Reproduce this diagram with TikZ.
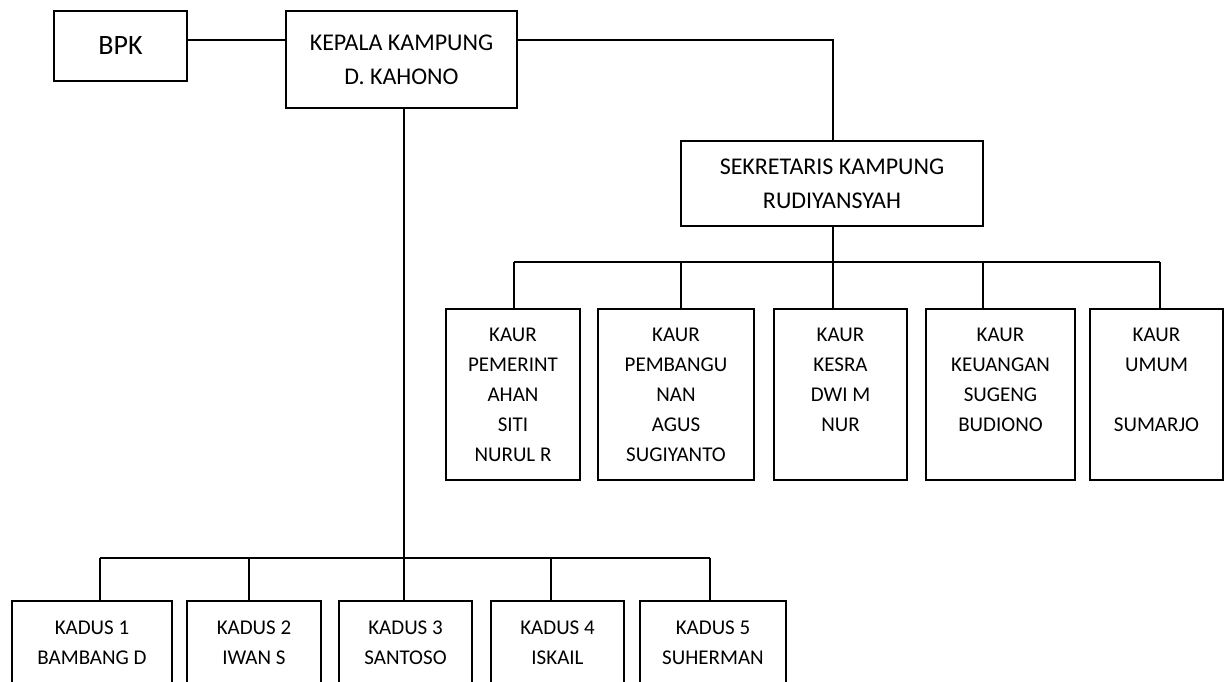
\documentclass[tikz,border=0pt]{standalone}
\usepackage{fontspec}
\setmainfont{Carlito}

\tikzset{
	kotak/.style={draw, rectangle, line width=1.6pt, align=center, inner sep=0pt},
	atas/.style={font=\fontsize{24}{34}\selectfont},
	bawah/.style={font=\fontsize{21}{30}\selectfont},
	garis/.style={line width=1.6pt}
}

\begin{document}
\begin{tikzpicture}[x=1pt, y=-1pt, anchor=center]

		\useasboundingbox (0,0) rectangle (1231,681);
		\clip (0,0) rectangle (1231,681);

		% pimpinan
		\node[kotak, minimum width=133, minimum height=70, font=\fontsize{28}{34}\selectfont] (bpk) at (120.5,46) {BPK};
		\node[kotak, atas, minimum width=231, minimum height=97] (kepala) at (401.5,59.5) {KEPALA KAMPUNG\\D. KAHONO};
		\node[kotak, atas, minimum width=302, minimum height=85] (sekdes) at (832,183.5) {SEKRETARIS KAMPUNG\\RUDIYANSYAH};

		% kaur
		\node[kotak, bawah, minimum width=134, minimum height=171] (kaur1) at (513,394.5) {KAUR\\PEMERINT\\AHAN\\SITI\\NURUL R};
		\node[kotak, bawah, minimum width=156, minimum height=171] (kaur2) at (676,394.5) {KAUR\\PEMBANGU\\NAN\\AGUS\\SUGIYANTO};
		\node[kotak, bawah, minimum width=133, minimum height=171] (kaur3) at (840.5,394.5) {KAUR\\KESRA\\DWI M\\NUR\\\mbox{}};
		\node[kotak, bawah, minimum width=149, minimum height=171] (kaur4) at (1000.5,394.5) {KAUR\\KEUANGAN\\SUGENG\\BUDIONO\\\mbox{}};
		\node[kotak, bawah, minimum width=133, minimum height=171] (kaur5) at (1156.5,394.5) {KAUR\\UMUM\\\mbox{}\\SUMARJO\\\mbox{}};

		% kadus
		\node[kotak, bawah, minimum width=160, minimum height=84] (kadus1) at (92,643) {KADUS 1\\BAMBANG D};
		\node[kotak, bawah, minimum width=134, minimum height=84] (kadus2) at (254,643) {KADUS 2\\IWAN S};
		\node[kotak, bawah, minimum width=133, minimum height=84] (kadus3) at (405.5,643) {KADUS 3\\SANTOSO};
		\node[kotak, bawah, minimum width=133, minimum height=84] (kadus4) at (557.5,643) {KADUS 4\\ISKAIL};
		\node[kotak, bawah, minimum width=146, minimum height=84] (kadus5) at (713,643) {KADUS 5\\SUHERMAN};

		% titik cabang
		\coordinate (garisatas) at (0,40);
		\coordinate (buskaur) at (0,262);
		\coordinate (buskadus) at (0,558);
		\coordinate (t1) at (514,262);
		\coordinate (t2) at (681,262);
		\coordinate (t3) at (833,262);
		\coordinate (t4) at (983,262);
		\coordinate (t5) at (1160,262);
		\coordinate (s1) at (100,558);
		\coordinate (s2) at (249,558);
		\coordinate (s3) at (404,558);
		\coordinate (s4) at (551,558);
		\coordinate (s5) at (710,558);

		\draw[garis] (bpk.east |- garisatas) -- (kepala.west |- garisatas);
		\draw[garis] (kepala.east |- garisatas) -- (t3 |- garisatas) -- (t3 |- sekdes.north);
		\draw[garis] (t3 |- sekdes.south) -- (t3);

		\draw[garis] (t1) -- (t5);
		\draw[garis] (t1) -- (t1 |- kaur1.north);
		\draw[garis] (t2) -- (t2 |- kaur2.north);
		\draw[garis] (t3) -- (t3 |- kaur3.north);
		\draw[garis] (t4) -- (t4 |- kaur4.north);
		\draw[garis] (t5) -- (t5 |- kaur5.north);

		\draw[garis] (s3 |- kepala.south) -- (s3);
		\draw[garis] (s1) -- (s5);
		\draw[garis] (s1) -- (s1 |- kadus1.north);
		\draw[garis] (s2) -- (s2 |- kadus2.north);
		\draw[garis] (s3) -- (s3 |- kadus3.north);
		\draw[garis] (s4) -- (s4 |- kadus4.north);
		\draw[garis] (s5) -- (s5 |- kadus5.north);

\end{tikzpicture}
\end{document}
